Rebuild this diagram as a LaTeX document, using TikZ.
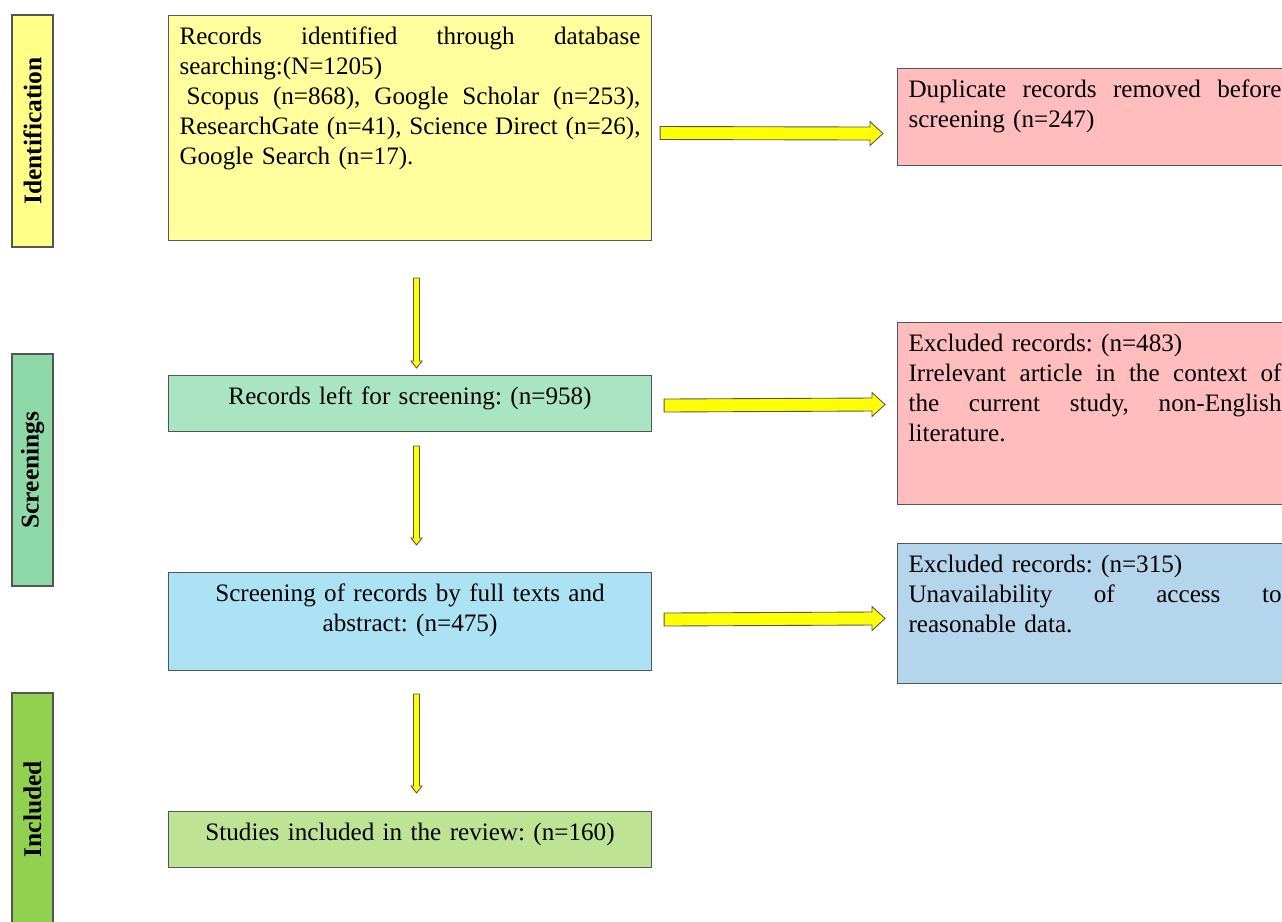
\documentclass[tikz,border=0pt]{standalone}
\usepackage{fontspec}
\setmainfont{Liberation Serif}
\usetikzlibrary{calc}
\definecolor{idbar}{HTML}{FFFF88}
\definecolor{idfill}{HTML}{FFFF9E}
\definecolor{scbar}{HTML}{8FD9A8}
\definecolor{leftfill}{HTML}{A9E5C3}
\definecolor{fullfill}{HTML}{ABE3F5}
\definecolor{inbar}{HTML}{92D050}
\definecolor{infill}{HTML}{BEE395}
\definecolor{dupfill}{HTML}{FFBDBD}
\definecolor{dbfill}{HTML}{B5D5EC}
\definecolor{boxgray}{HTML}{555555}
\definecolor{arrowfill}{HTML}{FFFF00}
\newcommand{\sline}[1]{{\spaceskip=0pt\xspaceskip=0pt\makebox[\hsize][s]{#1}}}

\begin{document}
\begin{tikzpicture}[
	box/.style={draw=boxgray, line width=0.6pt, anchor=north west, inner xsep=0.22cm, inner ysep=0.2cm, text height=0.38cm, font=\fontsize{14.3}{17.1}\selectfont\frenchspacing},
	mainbox/.style={box, text width=9.22cm},
	sidebox/.style={box, text width=7.46cm, align=left},
	stage/.style={draw=boxgray, line width=0.6pt, rotate=90, minimum width=4.64cm, minimum height=0.82cm, inner sep=0pt, font=\fontsize{14.5}{17}\selectfont\bfseries},
	harrow/.style={fill=arrowfill, draw=boxgray, line width=0.5pt, to path={($(\tikztostart)+(0,0.13)$) -- ($(\tikztotarget)+(-0.26,0.13)$) -- ($(\tikztotarget)+(-0.26,0.24)$) -- (\tikztotarget) -- ($(\tikztotarget)+(-0.26,-0.24)$) -- ($(\tikztotarget)+(-0.26,-0.13)$) -- ($(\tikztostart)+(0,-0.13)$) -- cycle}},
	varrow/.style={fill=arrowfill, draw=boxgray, line width=0.5pt, to path={($(\tikztostart)+(-0.06,0)$) -- ($(\tikztotarget)+(-0.06,0.14)$) -- ($(\tikztotarget)+(-0.11,0.14)$) -- (\tikztotarget) -- ($(\tikztotarget)+(0.11,0.14)$) -- ($(\tikztotarget)+(0.06,0.14)$) -- ($(\tikztostart)+(0.06,0)$) -- cycle}}]
	\useasboundingbox (0,0) rectangle (25.64,18.42);
	\node (idst) [stage, fill=idbar] at (0.65,15.80) {Identification};
	\node (scst) [stage, fill=scbar] at (0.65,9.02) {Screenings};
	\node (inst) [stage, fill=inbar] at (0.65,2.24) {Included};
	\node (ident) [mainbox, fill=idfill, text depth=3.72cm, align=left] at (3.36,18.12) {\sline{Records identified through database}\\
		searching:(N=1205)\\
		\sline{\hspace{0.14cm}Scopus (n=868), Google Scholar (n=253),}\\
		\sline{ResearchGate (n=41), Science Direct (n=26),}\\
		Google Search (n=17).};
	\node (left) [mainbox, fill=leftfill, text depth=0.34cm, align=center] at (3.36,10.92) {Records left for screening: (n=958)};
	\node (full) [mainbox, fill=fullfill, text depth=1.18cm, align=center] at (3.36,6.98) {Screening of records by full texts and\\ abstract: (n=475)};
	\node (incl) [mainbox, fill=infill, text depth=0.34cm, align=center] at (3.36,2.20) {Studies included in the review: (n=160)};
	\node (dup) [sidebox, fill=dupfill, text depth=1.16cm] at (17.94,17.06) {\sline{Duplicate records removed before}\\
		screening (n=247)};
	\node (excl) [sidebox, fill=dupfill, text depth=2.86cm] at (17.94,11.98) {Excluded records: (n=483)\\
		\sline{Irrelevant article in the context of}\\
		\sline{the current study, non-English}\\
		literature.};
	\node (access) [sidebox, fill=dbfill, text depth=2.02cm] at (17.94,7.56) {Excluded records: (n=315)\\
		\sline{Unavailability of access to}\\
		reasonable data.};
	\draw [harrow] ([xshift=0.16cm,yshift=-0.10cm]ident.east) to ([xshift=-0.28cm,yshift=-0.33cm]dup.west);
	\draw [harrow] ([xshift=0.24cm,yshift=-0.04cm]left.east) to ([xshift=-0.24cm,yshift=0.18cm]excl.west);
	\draw [harrow] ([xshift=0.24cm,yshift=0.04cm]full.east) to ([xshift=-0.24cm,yshift=-0.10cm]access.west);
	\draw [varrow] ([xshift=0.13cm,yshift=-0.74cm]ident.south) to ([xshift=0.13cm,yshift=0.14cm]left.north);
	\draw [varrow] ([xshift=0.13cm,yshift=-0.28cm]left.south) to ([xshift=0.13cm,yshift=0.54cm]full.north);
	\draw [varrow] ([xshift=0.13cm,yshift=-0.46cm]full.south) to ([xshift=0.13cm,yshift=0.36cm]incl.north);
\end{tikzpicture}
\end{document}
